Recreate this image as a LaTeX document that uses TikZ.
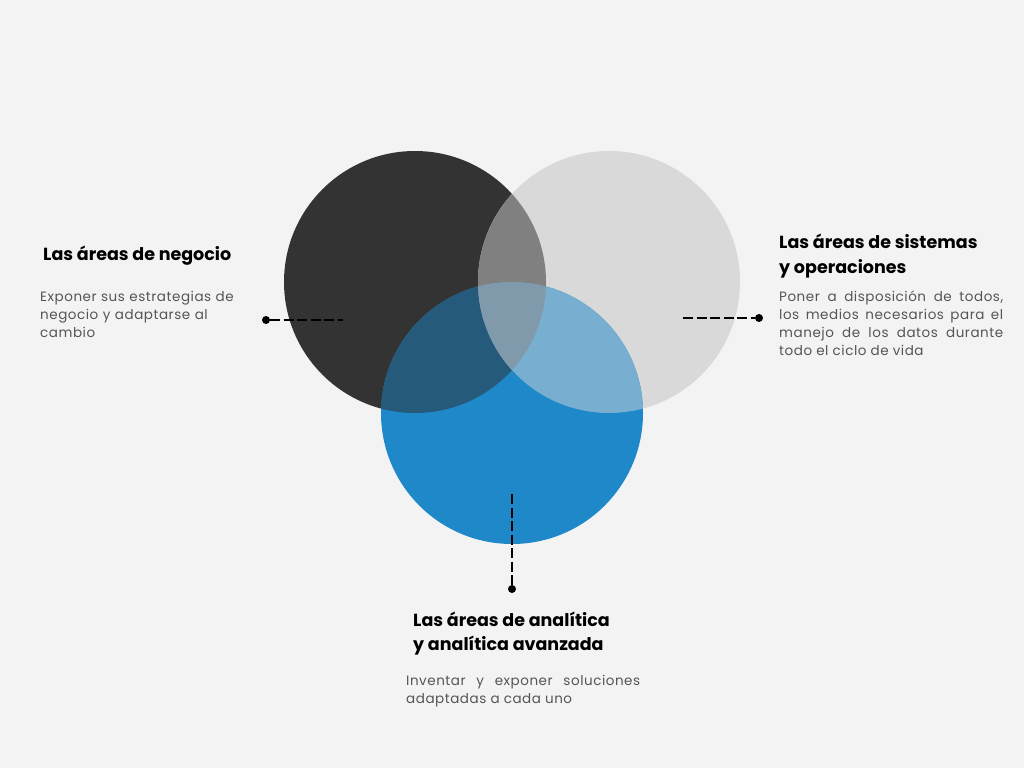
\documentclass[tikz,border=0pt]{standalone}
\usepackage{fontspec}
\setmainfont{Poppins}
\newfontfamily\bodyfont[LetterSpace=4]{Poppins}
\definecolor{bg}{HTML}{F3F3F3}
\definecolor{cA}{HTML}{333333}
\definecolor{cB}{HTML}{D9D9D9}
\definecolor{cC}{HTML}{1E88C8}
\definecolor{cAB}{HTML}{808080}
\definecolor{cAC}{HTML}{265A7A}
\definecolor{cBC}{HTML}{78AED0}
\definecolor{cABC}{HTML}{809AAB}
\definecolor{bodygray}{HTML}{555555}
\begin{document}
\begin{tikzpicture}[x=1pt,y=-1pt,
  dotc/.style={circle,fill=black,inner sep=0pt,minimum size=8pt},
  conn/.style={line width=1.8pt,dash pattern=on 10pt off 3.5pt},
  head/.style={anchor=base west,inner sep=0pt,font=\fontsize{17.5}{24}\selectfont\bfseries,text=black},
  body/.style={anchor=base west,inner sep=0pt,font=\bodyfont\fontsize{13.5}{18}\selectfont,text=bodygray}]
\useasboundingbox (0,0) rectangle (1024,768);
\fill[bg] (0,0) rectangle (1024,768);
\coordinate (A) at (415,282);
\coordinate (B) at (609,282);
\coordinate (C) at (512,413);
\fill[cA] (A) circle (131pt);
\fill[cB] (B) circle (131pt);
\fill[cC] (C) circle (131pt);
\begin{scope}
  \clip (A) circle (131pt);
  \fill[cAB] (B) circle (131pt);
  \fill[cAC] (C) circle (131pt);
\end{scope}
\begin{scope}
  \clip (B) circle (131pt);
  \fill[cBC] (C) circle (131pt);
  \clip (A) circle (131pt);
  \fill[cABC] (C) circle (131pt);
\end{scope}
% connectors
\node[dotc] (dl) at (266,320) {};
\coordinate (el) at (343,320);
\draw[conn] (dl) -- (el);
\node[dotc] (dr) at (759,318) {};
\coordinate (er) at (683,318);
\draw[conn] (er) -- (dr);
\node[dotc] (db) at (512,589) {};
\coordinate (eb) at (512,494);
\draw[conn] (eb) -- (db);
% texts
\node[head] (h1) at (43,260) {Las áreas de negocio};
\node[body,text width=220pt,align=left] (b1) at (40,301) {Exponer sus estrategias de\\negocio y adaptarse al\\cambio};
\node[head] (h2a) at (779,248) {Las áreas de sistemas};
\node[head] (h2b) at (779,273) {y operaciones};
\node[body,text width=224pt,align=justify] (b2) at (779,301) {Poner a disposición de todos,\linebreak los medios necesarios para el\linebreak manejo de los datos durante\linebreak todo el ciclo de vida};
\node[head] (h3a) at (413,626) {Las áreas de analítica};
\node[head] (h3b) at (413,650) {y analítica avanzada};
\node[body,text width=234pt,align=justify] (b3) at (406,685) {Inventar y exponer soluciones\linebreak adaptadas a cada uno};
\end{tikzpicture}
\end{document}
